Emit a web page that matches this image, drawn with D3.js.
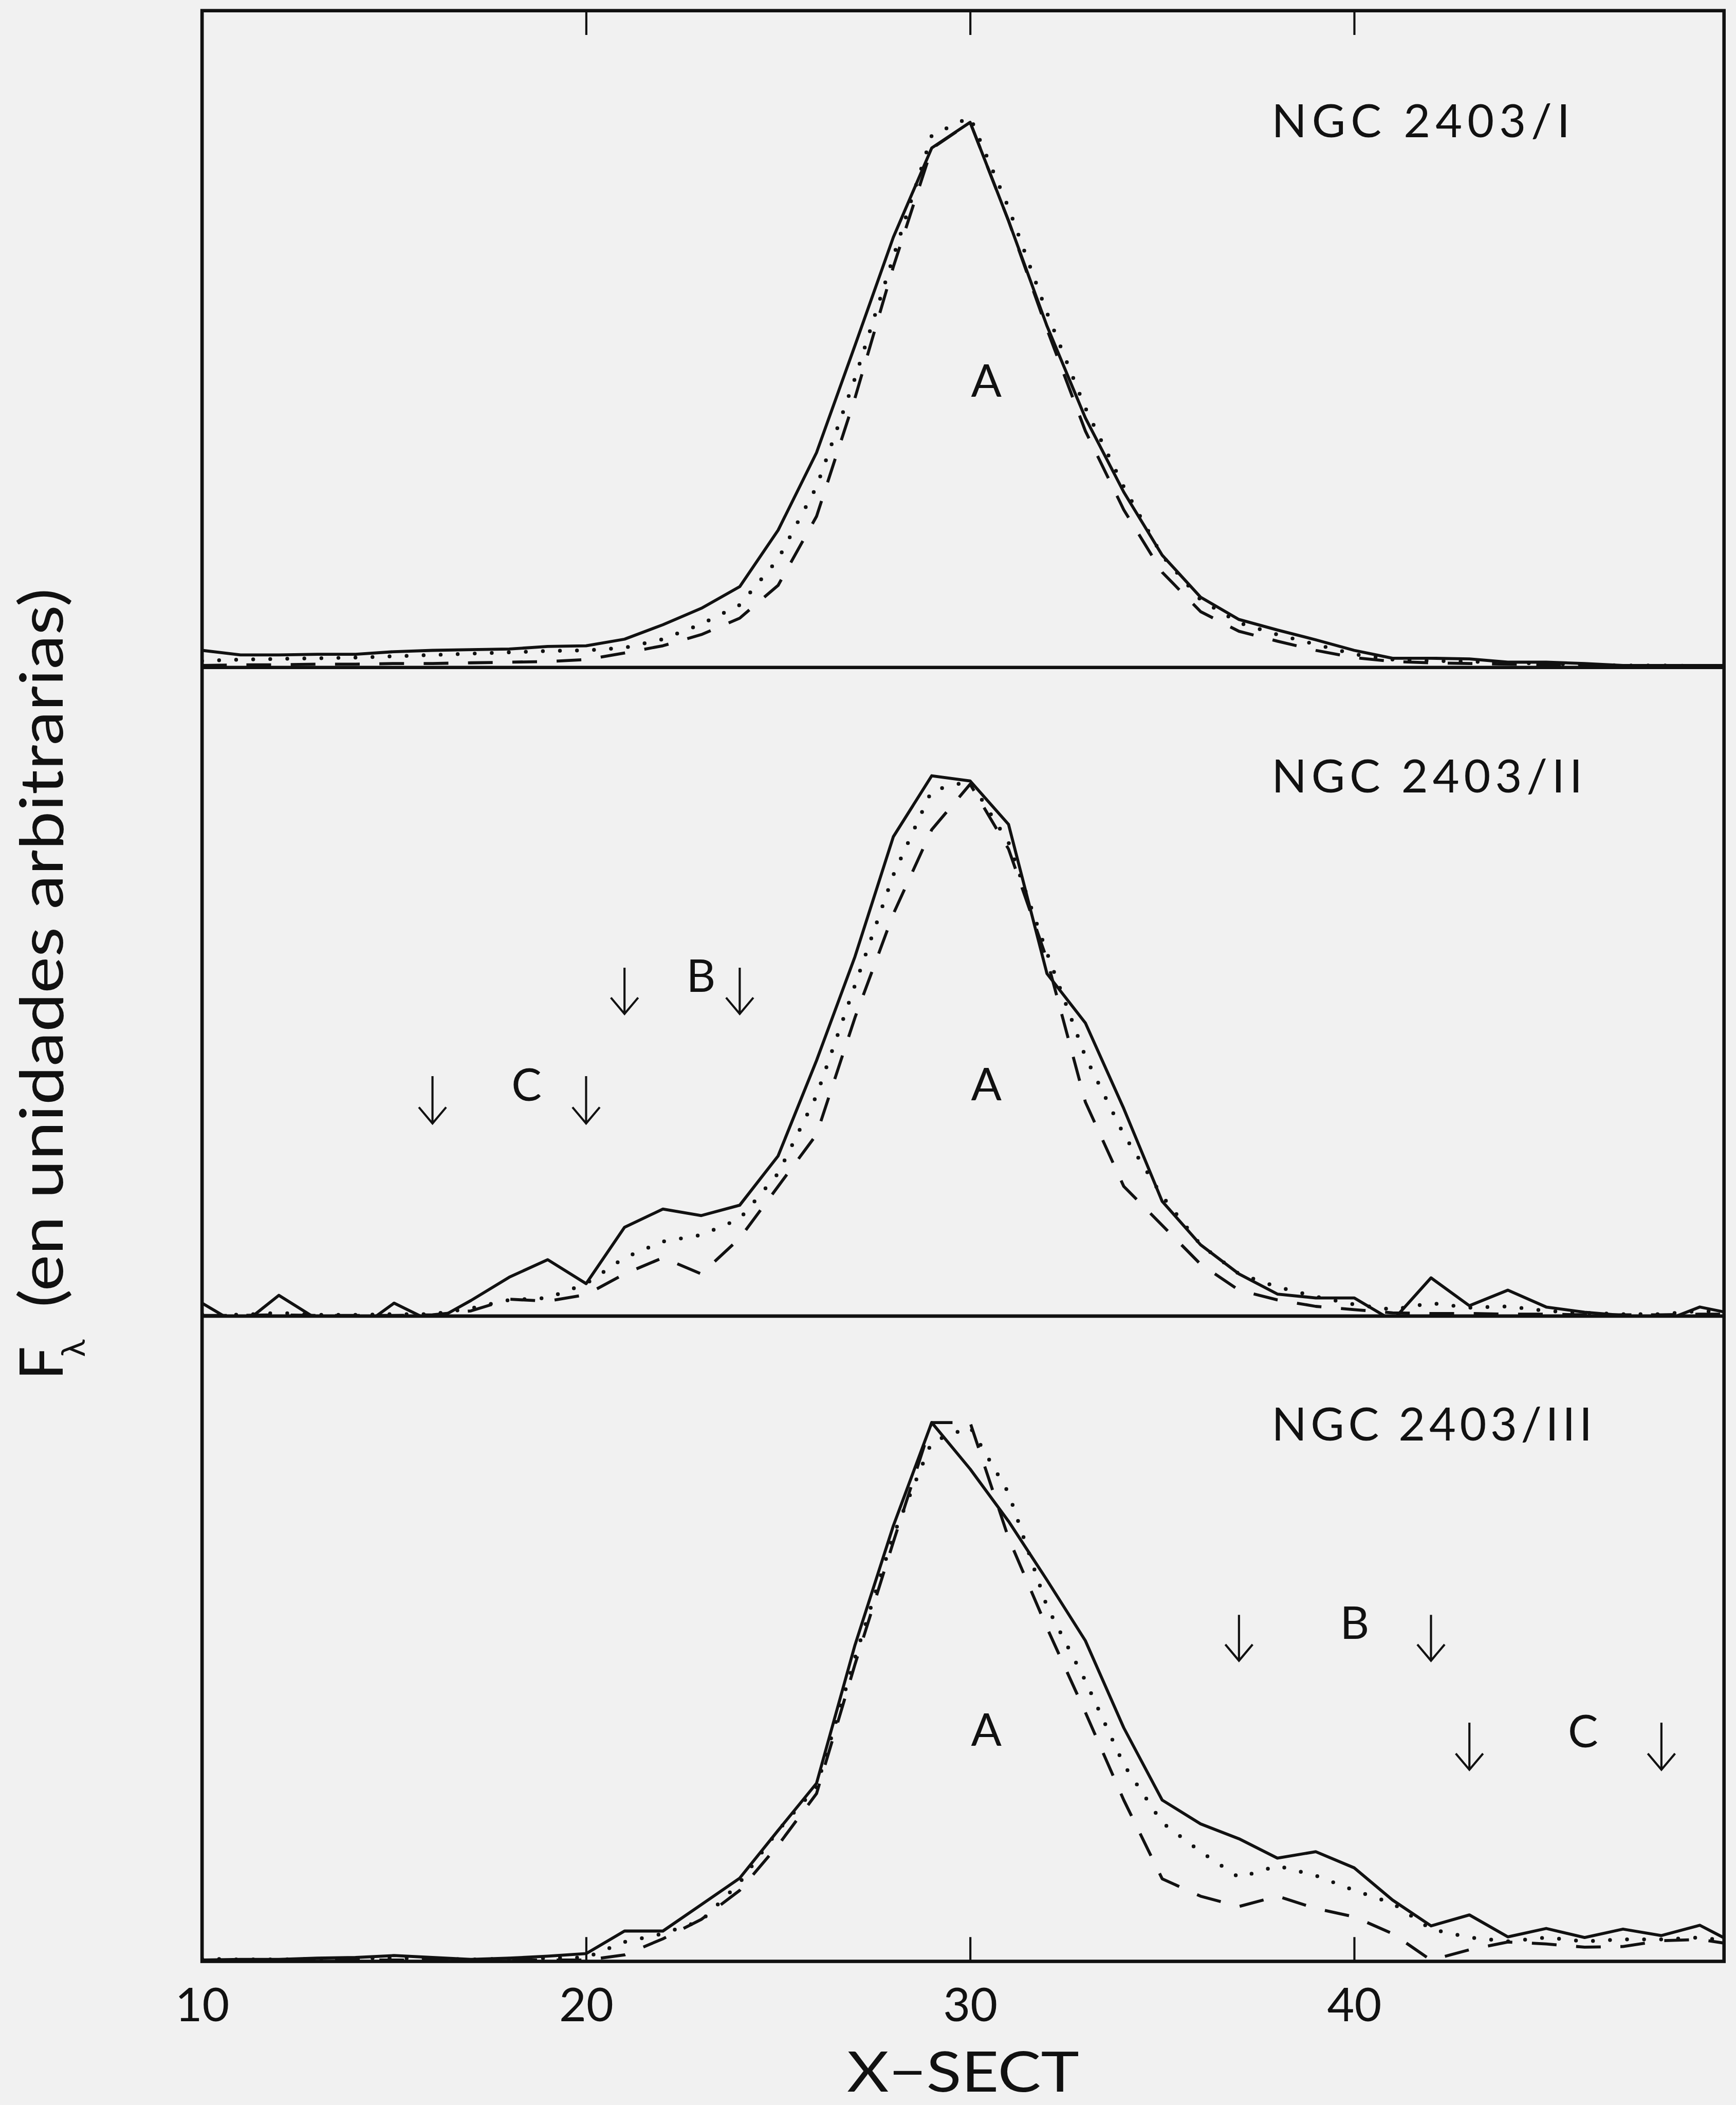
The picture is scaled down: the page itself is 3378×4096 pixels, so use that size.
<!DOCTYPE html>
<html>
<head>
<meta charset="utf-8">
<script src="https://cdnjs.cloudflare.com/ajax/libs/d3/7.8.5/d3.min.js"></script>
<style>
  body { margin: 0; background: #f1f1f1; }
  svg { display: block; }
  text { font-family: Lato, "Open Sans", "DejaVu Sans", sans-serif; font-weight: 400; fill: #111; }
</style>
</head>
<body>
<svg id="chart"></svg>
<script>
// X-SECT sample positions (same for every spectrum)
const xsect = [10, 11, 12, 13, 14, 15, 16, 17, 18, 19, 20, 21, 22, 23, 24, 25, 26, 27, 28, 29,
               30, 31, 32, 33, 34, 35, 36, 37, 38, 39, 40, 41, 42, 43, 44, 45, 46, 47, 48, 49, 50];
const xTicks = [10, 20, 30, 40];
const panelNames = ["NGC 2403/I", "NGC 2403/II", "NGC 2403/III"];

// flux, in percent of the panel height
const solidI  = [2.6, 1.9, 1.9, 2.0, 2.0, 2.4, 2.6, 2.7, 2.8, 3.2, 3.3, 4.3, 6.5, 9.0, 12.3, 20.9, 32.7, 49.0, 65.5, 79.1,
                 83.0, 68.0, 52.0, 38.0, 26.7, 17.1, 10.7, 7.3, 5.7, 4.2, 2.6, 1.4, 1.4, 1.3, 0.8, 0.8, 0.6, 0.3, 0.3, 0.3, 0.3];
const dottedI = [1.0, 1.2, 1.3, 1.4, 1.5, 1.7, 1.9, 2.1, 2.3, 2.5, 2.6, 3.0, 4.3, 6.6, 9.5, 16.5, 27.5, 44.0, 62.5, 81.0,
                 83.8, 70.0, 54.0, 39.5, 27.5, 17.0, 10.3, 6.8, 5.0, 3.5, 2.0, 1.2, 1.0, 0.9, 0.7, 0.6, 0.4, 0.3, 0.3, 0.2, 0.2];
const dashedI = [0.3, 0.4, 0.4, 0.5, 0.5, 0.6, 0.6, 0.7, 0.8, 0.9, 1.2, 2.2, 3.3, 5.0, 7.5, 12.5, 23.0, 41.0, 61.0, 79.0,
                 83.0, 68.0, 51.5, 36.0, 24.0, 14.5, 8.5, 5.5, 4.0, 2.6, 1.5, 0.9, 0.7, 0.6, 0.5, 0.4, 0.3, 0.2, 0.2, 0.2, 0.2];

const solidII  = [2.0, -1.5, 3.2, -0.5, -2.3, 2.0, -0.9, 2.4, 6.0, 8.7, 5.0, 13.7, 16.5, 15.5, 17.1, 24.7, 39.4, 55.4, 73.9, 83.3,
                  82.5, 75.8, 52.8, 45.2, 32.0, 17.7, 11.0, 6.5, 3.4, 2.8, 2.8, -0.7, 5.9, 1.6, 4.0, 1.4, 0.6, 0.1, -0.9, 1.4, 0.2];
const dottedII = [0.3, 0.2, 0.5, 0.2, 0.2, 0.3, 0.3, 1.2, 2.5, 2.8, 5.0, 9.0, 11.5, 12.5, 15.0, 22.0, 34.0, 51.0, 68.0, 81.0,
                  82.5, 73.0, 56.0, 40.0, 28.0, 18.5, 11.0, 6.5, 4.5, 3.0, 1.8, 1.0, 2.0, 1.3, 1.5, 0.8, 0.5, 0.3, 0.3, 0.8, 0.5];
const dashedII = [0.1, 0.1, 0.2, 0.1, 0.1, 0.1, 0.2, 0.8, 2.6, 2.3, 3.3, 6.5, 9.0, 6.5, 12.0, 20.0, 28.0, 46.0, 62.0, 75.0,
                  82.0, 72.0, 55.0, 33.0, 20.0, 14.0, 8.0, 4.0, 2.5, 1.5, 1.0, 0.5, 0.4, 0.4, 0.3, 0.3, 0.2, 0.2, 0.2, 0.3, 0.3];

const solidIII  = [0.2, 0.3, 0.3, 0.5, 0.6, 0.9, 0.6, 0.3, 0.5, 0.8, 1.2, 4.7, 4.7, 8.8, 12.9, 20.3, 27.6, 49.0, 67.5, 83.5,
                   76.3, 68.2, 59.1, 49.7, 36.2, 25.0, 21.3, 19.0, 16.0, 17.0, 14.5, 9.5, 5.5, 7.2, 3.8, 5.1, 3.7, 5.0, 4.0, 5.6, 2.5];
const dottedIII = [0.4, 0.3, 0.3, 0.4, 0.5, 0.5, 0.4, 0.3, 0.4, 0.5, 0.6, 3.0, 4.3, 6.3, 12.2, 20.3, 27.0, 47.0, 66.0, 80.5,
                   82.8, 72.6, 55.0, 43.5, 30.5, 21.5, 17.0, 13.0, 14.8, 13.3, 11.0, 9.0, 5.0, 3.7, 3.1, 3.7, 3.1, 3.4, 3.4, 3.7, 3.0];
const dashedIII = [0.1, 0.1, 0.2, 0.2, 0.2, 0.2, 0.2, 0.2, 0.2, 0.2, 0.2, 1.0, 3.5, 6.5, 11.0, 18.0, 26.0, 46.0, 65.0, 83.5,
                   83.5, 65.6, 51.7, 38.6, 25.0, 12.8, 10.1, 8.5, 10.1, 8.2, 6.9, 4.3, 0.2, 1.8, 3.0, 2.7, 2.2, 2.3, 3.2, 3.4, 2.5];

// components marked with arrows: [label, first arrow, second arrow]
const marksII  = [["C", 16, 20], ["B", 21, 24]];
const marksIII = [["B", 37, 42], ["C", 43, 48]];

const W = 4073, H = 4939;
const svg = d3.select("#chart")
    .attr("width", 3378).attr("height", 4096)
    .attr("viewBox", "0 0 " + W + " " + H);

svg.append("rect").attr("width", W).attr("height", H).attr("fill", "#f1f1f1");

const x = d3.scaleLinear().domain([10, 49.63]).range([474, 4045]);
const xRight = x.range()[1];

const panels = [
    {top: 25,   bottom: 1566, name: panelNames[0], series: [solidI, dottedI, dashedI], marks: []},
    {top: 1566, bottom: 3088, name: panelNames[1], series: [solidII, dottedII, dashedII], marks: marksII},
    {top: 3088, bottom: 4602, name: panelNames[2], series: [solidIII, dottedIII, dashedIII], marks: marksIII}
];

const styles = [
    {width: 7, dash: null, cap: "butt"},
    {width: 9, dash: "0 40", cap: "round"},
    {width: 7, dash: "58 46", cap: "butt"}
];

// label placement in data units (x-sect, percent of panel)
const labelPos = {
    name: [37.85, 80.7],
    A: [[30.42, 41.2], [30.42, 33.3], [30.42, 33.4]],
    B: [22.99, 50.0, 40.01],
    C: [18.45, 33.2, 45.96]
};

panels.forEach(function (p, i) {
    let y = d3.scaleLinear().domain([0, 100]).range([p.bottom, p.top]);

    svg.append("clipPath").attr("id", "clip" + i)
        .append("rect")
        .attr("x", x(10)).attr("y", p.top)
        .attr("width", xRight - x(10)).attr("height", p.bottom - p.top);

    let g = svg.append("g").attr("clip-path", "url(#clip" + i + ")");

    let line = d3.line()
        .x(d => x(d[0]))
        .y(d => y(d[1]));

    p.series.forEach(function (values, k) {
        let st = styles[k];
        g.append("path")
            .datum(d3.zip(xsect, values))
            .attr("d", line)
            .attr("fill", "none")
            .attr("stroke", "#111")
            .attr("stroke-width", st.width)
            .attr("stroke-linejoin", "round")
            .attr("stroke-linecap", st.cap)
            .attr("stroke-dasharray", st.dash);
    });

    // panel name
    svg.append("text")
        .attr("x", x(labelPos.name[0]))
        .attr("y", y(labelPos.name[1]))
        .attr("font-size", 108)
        .attr("textLength", [700, 729, 752][i])
        .attr("lengthAdjust", "spacing")
        .text(p.name);

    svg.append("text")
        .attr("x", x(labelPos.A[i][0]))
        .attr("y", y(labelPos.A[i][1]))
        .attr("font-size", 106)
        .attr("text-anchor", "middle")
        .text("A");

    // arrows
    p.marks.forEach(function (m) {
        let lab = m[0];
        let top = lab == "B" ? 53.7 : 37.0;
        let tip = lab == "B" ? 46.6 : 29.7;
        [m[1], m[2]].forEach(function (xv) {
            let ax = x(xv), t = y(tip);
            svg.append("path")
                .attr("d", "M" + ax + "," + y(top) + "V" + t +
                           "M" + (ax - 32) + "," + (t - 38) + "L" + ax + "," + t + "L" + (ax + 32) + "," + (t - 38))
                .attr("fill", "none")
                .attr("stroke", "#111")
                .attr("stroke-width", 5);
        });
        let lx = lab == "B" ? (i == 1 ? labelPos.B[0] : labelPos.B[2]) : (i == 1 ? labelPos.C[0] : labelPos.C[2]);
        let ly = lab == "B" ? labelPos.B[1] : labelPos.C[1];
        svg.append("text")
            .attr("x", x(lx))
            .attr("y", y(ly))
            .attr("font-size", 106)
            .attr("text-anchor", "middle")
            .text(lab);
    });
});

// frame
const frame = svg.append("g").attr("fill", "none").attr("stroke", "#111");
frame.append("rect")
    .attr("x", x(10)).attr("y", panels[0].top)
    .attr("width", xRight - x(10))
    .attr("height", panels[2].bottom - panels[0].top)
    .attr("stroke-width", 8);
[panels[1].top, panels[2].top].forEach(function (yy) {
    frame.append("line")
        .attr("x1", x(10)).attr("x2", xRight)
        .attr("y1", yy).attr("y2", yy)
        .attr("stroke-width", 8);
});

// ticks on top and bottom edges
svg.append("g")
    .attr("transform", "translate(0," + panels[0].top + ")")
    .call(d3.axisBottom(x).tickValues([20, 30, 40]).tickSize(57).tickFormat(""))
    .call(g => g.select(".domain").remove())
    .call(g => g.selectAll("line").attr("stroke", "#111").attr("stroke-width", 5));

svg.append("g")
    .attr("transform", "translate(0," + panels[2].bottom + ")")
    .call(d3.axisTop(x).tickValues([20, 30, 40]).tickSize(57).tickFormat(""))
    .call(g => g.select(".domain").remove())
    .call(g => g.selectAll("line").attr("stroke", "#111").attr("stroke-width", 5));

// tick labels
svg.append("g")
    .attr("transform", "translate(0," + panels[2].bottom + ")")
    .call(d3.axisBottom(x).tickValues(xTicks).tickSize(0))
    .call(g => g.select(".domain").remove())
    .call(g => g.selectAll("text")
        .attr("y", 141).attr("dy", 0)
        .attr("font-size", 110)
        .attr("font-family", null)
        .attr("fill", "#111"));

// axis titles
svg.append("text")
    .attr("x", (x(10) + xRight) / 2)
    .attr("y", 4908)
    .attr("font-size", 132)
    .attr("text-anchor", "middle")
    .attr("textLength", 545)
    .attr("lengthAdjust", "spacingAndGlyphs")
    .text("X\u2212SECT");

const ylab = svg.append("g").attr("transform", "translate(147,0) rotate(-90)");
ylab.append("text")
    .attr("x", -3238).attr("y", 0)
    .attr("font-size", 140)
    .text("F");
ylab.append("text")
    .attr("x", -3184).attr("y", 52)
    .attr("font-size", 76)
    .text("\u03bb");
ylab.append("text")
    .attr("x", -3068).attr("y", 0)
    .attr("font-size", 140)
    .attr("textLength", 1688)
    .attr("lengthAdjust", "spacingAndGlyphs")
    .text("(en unidades arbitrarias)");
</script>
</body>
</html>
